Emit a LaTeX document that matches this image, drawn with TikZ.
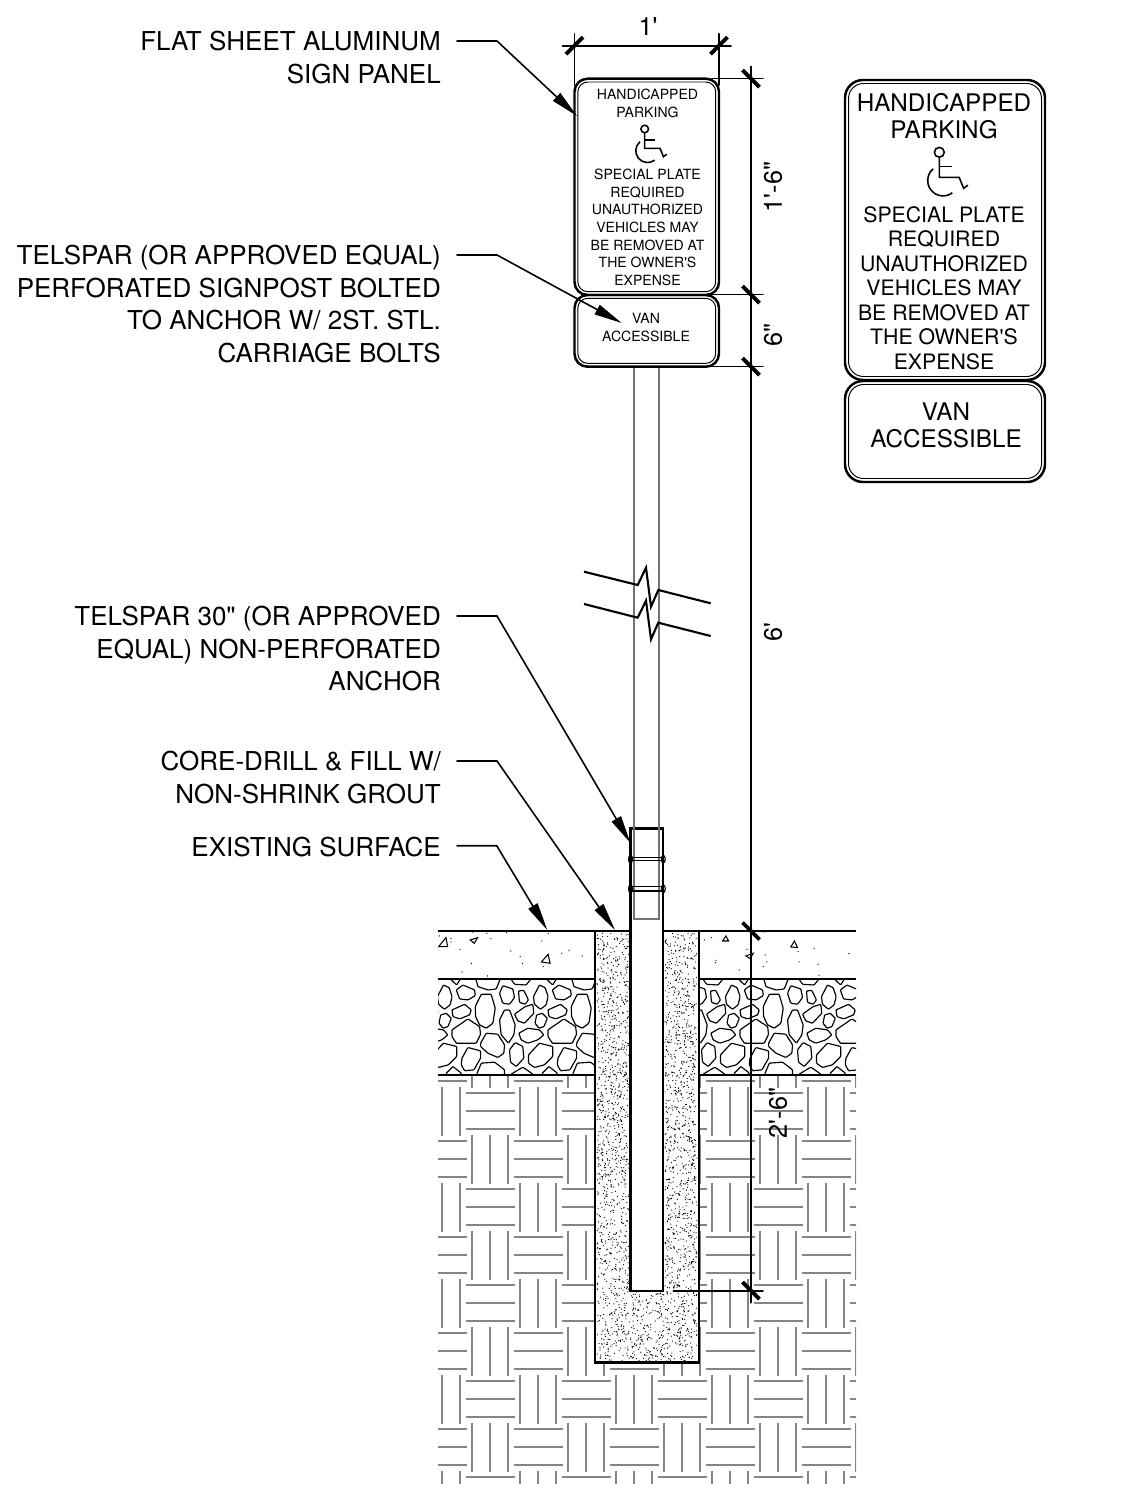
\documentclass[tikz,border=0pt]{standalone}
\usepackage{fontspec}
\usepackage{tkz-euclide}
\usetikzlibrary{calc}
\usetikzlibrary{positioning}
\usetikzlibrary{arrows.meta}
\newfontfamily\dwgfont{TeX Gyre Heros}
\tikzset{
  callout/.style={font=\dwgfont\fontsize{7.4}{9.25}\selectfont,align=right,inner sep=0pt,anchor=north east},
  leader/.style={line width=0.45pt,-{Triangle[length=0.28cm,width=0.105cm]}},
  dimline/.style={line width=0.55pt,shorten >=-0.12cm,shorten <=-0.12cm},
  extline/.style={line width=0.45pt,shorten >=-0.12cm},
  dimtick/.style={line width=1.1pt},
  dimtext/.style={font=\dwgfont\fontsize{7.2}{9}\selectfont,inner sep=0pt},
  boardouter/.style={line width=0.7pt},
  boardinner/.style={line width=0.28pt},
  smallsign/.style={font=\dwgfont\fontsize{4.0}{5.02}\selectfont,align=center,inner sep=0pt},
  bigsign/.style={font=\dwgfont\fontsize{6.9}{7.65}\selectfont,align=center,inner sep=0pt},
  bignote/.style={font=\dwgfont\fontsize{6.05}{6.97}\selectfont,align=center,inner sep=0pt},
  hatchline/.style={draw=black!48,line width=0.55pt},
  rock/.style={line width=0.33pt,rounded corners=0.008cm},
  ground/.style={line width=0.8pt},
  postline/.style={line width=0.62pt},
  postedge/.style={draw=black!55,line width=0.5pt},
  speck/.style={fill=black},
  pics/wheelchair/.style={code={
    \draw[line width=0.45pt] (0,0) circle (0.038);
    \draw[line width=0.45pt] (0,-0.038) -- (0,-0.193) -- (0.153,-0.193) -- (0.187,-0.277) -- (0.22,-0.253);
    \draw[line width=0.45pt] (0,-0.11) -- (0.10,-0.11);
    \draw[line width=0.45pt] (-0.047,-0.127) arc (130:307:0.118);
  }}
}
\begin{document}
\begin{tikzpicture}
      \useasboundingbox (0,0) rectangle (11.42,-15.01);

      \tkzDefPoints{4.97/-0.41/panelElbow,5.77/-1.16/panelTip,4.97/-2.55/postElbow,6.217/-3.23/postTip,
        4.97/-6.16/anchorElbow,6.305/-8.43/anchorTip,4.97/-7.61/groutElbow,6.15/-9.30/groutTip,
        4.967/-8.457/surfElbow,5.473/-9.30/surfTip,
        5.745/-0.457/widA,7.19/-0.457/widB,5.745/-0.85/extL,7.19/-0.85/extR,
        7.51/-0.787/htA,7.51/-2.947/htB,7.51/-3.667/htC,7.51/-9.31/htD,7.51/-12.907/htE,
        7.117/-0.787/extA,7.117/-2.947/extB,7.117/-3.667/extC,6.733/-12.907/extE}

      \begin{scope}
        \clip (4.38,-10.75) rectangle (8.56,-14.83);
        \foreach \col in {-2,...,8}{
          \foreach \row in {-1,...,8}{
            \pgfmathtruncatemacro{\parity}{mod(\col+\row+20,2)}
            \begin{scope}[shift={(4.903+0.48*\col,-11.113-0.48*\row)}]
              \ifnum\parity=0
                \foreach \off in {-0.18,0,0.18} \draw[hatchline] (-0.248,\off) -- (0.248,\off);
              \else
                \foreach \off in {-0.18,0,0.18} \draw[hatchline] (\off,-0.245) -- (\off,0.245);
              \fi
            \end{scope}
          }
        }
      \end{scope}

      \begin{scope}
        \clip (4.38,-9.79) rectangle (8.56,-10.75);
        \foreach \tile in {-1,...,4}{
          \begin{scope}[shift={(4.38+0.96*\tile,-9.75)},x=0.0033333cm,y=-0.0033333cm]
            \draw[rock] (55,45) -- (75,30) -- (110,45) -- (112,62) -- (90,75) -- (65,72) -- cycle;
            \draw[rock] (112,95) -- (130,58) -- (160,58) -- (172,100) -- (165,145) -- (145,160) -- (125,150) -- (113,125) -- cycle;
            \draw[rock] (185,55) -- (195,32) -- (225,42) -- (230,68) -- (215,88) -- (195,85) -- cycle;
            \draw[rock] (242,48) -- (258,46) -- (272,75) -- (262,88) -- (245,82) -- cycle;
            \draw[rock] (287,65) -- (305,30) -- (322,38) -- (331,65) -- (325,90) -- (308,103) -- (290,88) -- cycle;
            \draw[rock] (112,5) -- (120,35) -- (150,45) -- (175,42) -- (190,5) -- cycle;
            \draw[rock] (215,5) -- (230,28) -- (265,30) -- (285,5) -- cycle;
            \draw[rock] (318,5) -- (345,30) -- (360,5) -- cycle;
            \draw[rock] (42,105) -- (80,88) -- (100,105) -- (95,120) -- (65,132) -- (45,125) -- cycle;
            \draw[rock] (8,120) -- (25,115) -- (40,130) -- (30,155) -- (15,160) -- (3,145) -- cycle;
            \draw[rock] (42,165) -- (90,132) -- (125,155) -- (128,178) -- (115,205) -- (55,205) -- (42,185) -- cycle;
            \draw[rock] (185,135) -- (200,105) -- (215,105) -- (232,150) -- (228,180) -- (212,205) -- (190,180) -- cycle;
            \draw[rock] (230,118) -- (262,95) -- (285,88) -- (288,115) -- (260,145) -- (240,138) -- cycle;
            \draw[rock] (243,175) -- (270,160) -- (305,165) -- (318,180) -- (300,195) -- (270,205) -- (250,195) -- cycle;
            \draw[rock] (128,205) -- (145,175) -- (180,178) -- (200,210) -- (198,235) -- (180,248) -- (150,235) -- (128,215) -- cycle;
            \draw[rock] (215,225) -- (232,203) -- (255,215) -- (258,250) -- (235,275) -- (218,262) -- cycle;
            \draw[rock] (272,240) -- (305,205) -- (345,215) -- (345,245) -- (320,270) -- (290,278) -- (272,265) -- cycle;
            \draw[rock] (72,250) -- (90,218) -- (128,228) -- (128,250) -- (108,285) -- (80,288) -- (70,270) -- cycle;
            \draw[rock] (112,310) -- (130,265) -- (170,262) -- (200,285) -- (200,310) -- cycle;
            \draw[rock] (220,310) -- (220,298) -- (255,277) -- (285,298) -- (285,310) -- cycle;
            \draw[rock] (25,310) -- (25,295) -- (45,275) -- (70,295) -- (70,310) -- cycle;
          \end{scope}
        }
      \end{scope}

      \begin{scope}[shift={(4.36,-9.26)},x=0.0033333cm,y=-0.0033333cm]
        \foreach \ax/\ay/\bx/\by/\cx/\cy in {8/62/35/62/30/35,103/42/125/35/115/52,317/108/343/112/337/85}
          \draw[line width=0.3pt] (\ax,\ay) -- (\bx,\by) -- (\cx,\cy) -- cycle;
        \foreach \dx/\dy in {45/38,45/48,10/30,165/38,153/22,212/20,110/18,318/45,72/70,225/75,253/92,260/113,106/113,78/138,155/150,322/122,378/82,400/73,440/90,337/22}
          \fill[speck] (\dx,\dy) circle (2);
      \end{scope}
      \begin{scope}[shift={(6.96,-9.26)},x=0.0033333cm,y=-0.0033333cm]
        \foreach \ax/\ay/\bx/\by/\cx/\cy in {80/45/98/45/90/30,285/63/305/65/296/45,150/90/172/82/163/98}
          \draw[line width=0.3pt] (\ax,\ay) -- (\bx,\by) -- (\cx,\cy) -- cycle;
        \foreach \dx/\dy in {25/42,47/35,153/70,60/103,58/110,130/132,208/87,213/108,202/122,307/77,355/68,310/108,367/115,370/148,460/83,205/18}
          \fill[speck] (\dx,\dy) circle (2);
      \end{scope}

      \foreach \gy in {-9.79,-10.75} {
        \draw[ground] (4.38,\gy) -- (5.95,\gy);
        \draw[ground] (6.99,\gy) -- (8.56,\gy);
      }

      \fill[white] (5.95,-9.31) rectangle (6.99,-13.627);
      \pgfmathsetseed{11}
      \fill[speck] \foreach \i in {1,...,1000} {(5.97+0.33*rnd,-9.33-3.58*rnd) circle (0.0062)};
      \fill[speck] \foreach \i in {1,...,1000} {(6.65+0.32*rnd,-9.33-3.58*rnd) circle (0.0062)};
      \fill[speck] \foreach \i in {1,...,550} {(5.97+1.0*rnd,-12.91-0.70*rnd) circle (0.0062)};
      \draw[ground] (5.95,-9.31) -- (5.95,-13.627) -- (6.99,-13.627) -- (6.99,-9.31);
      \draw[ground] (4.38,-9.31) -- (8.56,-9.31);

      \fill[white] (6.305,-9.28) rectangle (6.633,-12.907);
      \draw[postline] (6.305,-8.285) rectangle (6.633,-9.31);
      \fill[white] (6.32,-9.25) rectangle (6.618,-9.37);
      \draw[postline] (6.305,-9.31) -- (6.305,-12.907) -- (6.633,-12.907) -- (6.633,-9.31);

      \draw[postedge] (6.343,-3.667) -- (6.343,-9.19) -- (6.593,-9.19) -- (6.593,-3.667);
      \foreach \by in {-8.577,-8.607,-8.867,-8.91}
        \draw[line width=0.38pt] (6.285,\by) -- (6.653,\by);
      \foreach \by in {-8.592,-8.888} {
        \draw[line width=0.3pt] (6.305,\by) ellipse (0.02 and 0.04);
        \draw[line width=0.3pt] (6.633,\by) ellipse (0.02 and 0.04);
      }

      \draw[line width=0.6pt] (5.84,-5.717) -- (6.377,-5.85) -- (6.46,-5.677) -- (6.51,-6.067) -- (6.583,-5.90) -- (7.107,-6.033);
      \draw[line width=0.6pt] (5.84,-6.04) -- (6.377,-6.177) -- (6.46,-6.007) -- (6.51,-6.393) -- (6.583,-6.227) -- (7.107,-6.36);

      \draw[boardouter,rounded corners=0.13cm] (5.745,-0.787) rectangle (7.19,-2.95);
      \draw[boardinner,rounded corners=0.10cm] (5.778,-0.82) rectangle (7.157,-2.917);
      \draw[boardouter,rounded corners=0.13cm] (5.745,-2.95) rectangle (7.19,-3.667);
      \draw[boardinner,rounded corners=0.10cm] (5.778,-2.983) rectangle (7.157,-3.634);
      \draw[boardouter,rounded corners=0.18cm] (8.45,-0.80) rectangle (10.45,-3.80);
      \draw[boardinner,rounded corners=0.15cm] (8.485,-0.835) rectangle (10.415,-3.765);
      \draw[boardouter,rounded corners=0.18cm] (8.45,-3.81) rectangle (10.45,-4.82);
      \draw[boardinner,rounded corners=0.15cm] (8.485,-3.845) rectangle (10.415,-4.785);

      \node[smallsign] (panelTitle) at (6.475,-1.033) {HANDICAPPED\\PARKING};
      \node[smallsign] (panelNote) at (6.475,-2.275) {SPECIAL PLATE\\REQUIRED\\UNAUTHORIZED\\VEHICLES MAY\\BE REMOVED AT\\THE OWNER'S\\EXPENSE};
      \node[smallsign] (panelVan) at (6.46,-3.275) {VAN\\ACCESSIBLE};
      \pic at (6.447,-1.29) {wheelchair};

      \node[bigsign] (signTitle) at (9.44,-1.165) {HANDICAPPED\\PARKING};
      \node[bignote] (signNote) at (9.44,-2.88) {SPECIAL PLATE\\REQUIRED\\UNAUTHORIZED\\VEHICLES MAY\\BE REMOVED AT\\THE OWNER'S\\EXPENSE};
      \node[bigsign] (signVan) at (9.46,-4.25) {VAN\\ACCESSIBLE};
      \pic[scale=1.3] at (9.393,-1.523) {wheelchair};

      \node[callout] (panelLabel) at (4.415,-0.305) {FLAT SHEET ALUMINUM\\SIGN PANEL};
      \node[callout] (postLabel) at (4.415,-2.445) {TELSPAR (OR APPROVED EQUAL)\\PERFORATED SIGNPOST BOLTED\\TO ANCHOR W/ 2ST. STL.\\CARRIAGE BOLTS};
      \node[callout] (anchorLabel) at (4.415,-6.055) {TELSPAR 30" (OR APPROVED\\EQUAL) NON-PERFORATED\\ANCHOR};
      \node[callout] (groutLabel) at (4.415,-7.505) {CORE-DRILL \& FILL W/\\NON-SHRINK GROUT};
      \node[callout] (surfLabel) at (4.415,-8.365) {EXISTING SURFACE};

      \coordinate (panelFrom) at ([shift={(0.155,-0.105)}]panelLabel.north east);
      \coordinate (postFrom) at ([shift={(0.155,-0.105)}]postLabel.north east);
      \coordinate (anchorFrom) at ([shift={(0.155,-0.105)}]anchorLabel.north east);
      \coordinate (groutFrom) at ([shift={(0.155,-0.105)}]groutLabel.north east);
      \coordinate (surfFrom) at ([shift={(0.155,-0.092)}]surfLabel.north east);

      \tkzDrawPolySeg[leader](panelFrom,panelElbow,panelTip)
      \tkzDrawPolySeg[leader](postFrom,postElbow,postTip)
      \tkzDrawPolySeg[leader](anchorFrom,anchorElbow,anchorTip)
      \tkzDrawPolySeg[leader](groutFrom,groutElbow,groutTip)
      \tkzDrawPolySeg[leader](surfFrom,surfElbow,surfTip)

      \tkzDrawSegment[dimline](widA,widB)
      \tkzDrawSegment[dimline](htA,htE)
      \tkzDrawSegment[extline](extL,widA)
      \tkzDrawSegment[extline](extR,widB)
      \tkzDrawSegment[extline](extA,htA)
      \tkzDrawSegment[extline](extB,htB)
      \tkzDrawSegment[extline](extC,htC)
      \tkzDrawSegment[extline](extE,htE)

      \foreach \pt in {widA,widB}
        \draw[dimtick] ([shift={(-0.085,-0.085)}]\pt) -- ([shift={(0.085,0.085)}]\pt);
      \foreach \pt in {htA,htB,htC,htD,htE}
        \draw[dimtick] ([shift={(-0.085,0.085)}]\pt) -- ([shift={(0.085,-0.085)}]\pt);

      \node[dimtext] (widText) at (6.48,-0.27) {1'};
      \node[dimtext,rotate=90] (panelHt) at (7.73,-1.87) {1'-6"};
      \node[dimtext,rotate=90] (vanHt) at (7.73,-3.35) {6"};
      \node[dimtext,rotate=90] (postHt) at (7.73,-6.32) {6'};
      \node[dimtext,rotate=90] (embedHt) at (7.78,-11.13) {2'-6"};
\end{tikzpicture}
\end{document}
